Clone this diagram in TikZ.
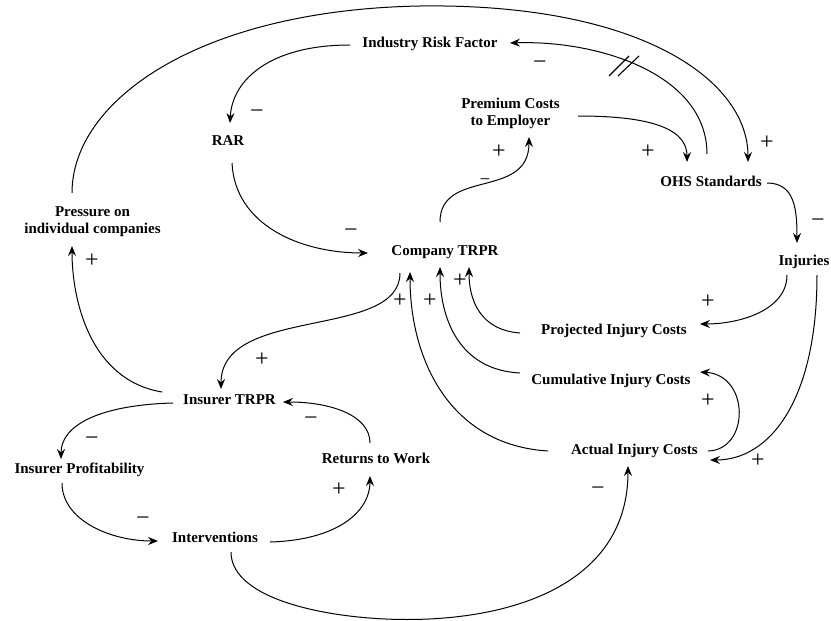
\documentclass[tikz,border=0pt]{standalone}
\usepackage{fontspec}
\setmainfont{Liberation Serif}
\usetikzlibrary{arrows.meta}
\begin{document}
\begin{tikzpicture}[x=1pt,y=-1pt,
  var/.style={font=\bfseries\fontsize{15}{17}\selectfont, inner sep=0pt, text height=0.676em, text depth=0pt},
  var2/.style={font=\bfseries\fontsize{15}{17}\selectfont, inner sep=0pt, align=center},
  sgn/.style={font=\fontsize{24}{24}\selectfont, inner sep=0pt, text height=0.506em, text depth=0pt},
  smallsgn/.style={font=\fontsize{19}{19}\selectfont, inner sep=0pt, text height=0.506em, text depth=0pt},
  link/.style={line width=1pt, -{Stealth[length=10pt,width=8pt,inset=3.5pt]}},
  delaymark/.style={line width=1.1pt}
  ]
\useasboundingbox (0,0) rectangle (831,621);
% variables
\node[var] (irf) at (430,44) {Industry Risk Factor};
\node[var2] (prem) at (510.5,113) {Premium Costs\\to Employer};
\node[var] (ohs) at (711,183) {OHS Standards};
\node[var] (rar) at (228,142) {RAR};
\node[var2] (press) at (92.5,222) {Pressure on\\individual companies};
\node[var] (comp) at (445,252) {Company TRPR};
\node[var] (inj) at (804,262) {Injuries};
\node[var] (proj) at (614,331) {Projected Injury Costs};
\node[var] (cum) at (611,381) {Cumulative Injury Costs};
\node[var] (act) at (634.5,451) {Actual Injury Costs};
\node[var] (ins) at (229.5,401) {Insurer TRPR};
\node[var] (prof) at (79.5,470) {Insurer Profitability};
\node[var] (ret) at (376,460) {Returns to Work};
\node[var] (intv) at (215,539) {Interventions};
\coordinate (top) at (420,6);
\coordinate (bot) at (407,619.5);
% links
\draw[link] ([shift={(-80,1)}]irf.center) .. controls +(-80,0) and +(2,-43) .. ([shift={(2,-19)}]rar.center);
\draw[link] ([shift={(-4,-29)}]ohs.center) .. controls +(0,-79) and +(90,-3) .. ([shift={(80,-1)}]irf.center);
\draw[link] ([shift={(-20.5,-29)}]press.center) .. controls +(0,-93) and +(-220,4) .. (top) .. controls +(220,-3) and +(0,-82) .. ([shift={(37,-21)}]ohs.center);
\draw[link] ([shift={(67.5,3)}]prem.center) .. controls +(62,0) and +(0,-37) .. ([shift={(-24,-21)}]ohs.center);
\draw[link] ([shift={(56,0)}]ohs.center) .. controls +(28,0) and +(0,-33) .. ([shift={(-7,-19)}]inj.center);
\draw[link] ([shift={(-5,-30)}]comp.center) .. controls +(0,-54) and +(0,63) .. ([shift={(18.5,24)}]prem.center);
\draw[link] ([shift={(4,21)}]rar.center) .. controls +(3,62) and +(-68,0) .. ([shift={(-77,1)}]comp.center);
\draw[link] ([shift={(-45,21)}]comp.center) .. controls +(0,67) and +(0,-84) .. ([shift={(-8.5,-12)}]ins.center);
\draw[link] ([shift={(-67.5,-9)}]ins.center) .. controls +(-72,-12) and +(0,54) .. ([shift={(-20.5,24)}]press.center);
\draw[link] ([shift={(-56.5,2)}]ins.center) .. controls +(-73,2) and +(0,-34) .. ([shift={(-18.5,-11)}]prof.center);
\draw[link] ([shift={(-17.5,13)}]prof.center) .. controls +(0,37) and +(-48,0) .. ([shift={(-57,2)}]intv.center);
\draw[link] ([shift={(55,3)}]intv.center) .. controls +(70,-2) and +(0,34) .. ([shift={(-6,16)}]ret.center);
\draw[link] ([shift={(-6,-17)}]ret.center) .. controls +(0,-28) and +(47,0) .. ([shift={(53.5,1)}]ins.center);
\draw[link] ([shift={(16,13)}]intv.center) .. controls +(0,48) and +(-77,0) .. (bot) .. controls +(113,0) and +(0,114) .. ([shift={(-6.5,15)}]act.center);
\draw[link] ([shift={(-17,13)}]inj.center) .. controls +(0,35) and +(40,0) .. ([shift={(86,-7)}]proj.center);
\draw[link] ([shift={(13,13)}]inj.center) .. controls +(0,125) and +(60,0) .. ([shift={(75.5,9)}]act.center);
\draw[link] ([shift={(73.5,0)}]act.center) .. controls +(42,-1) and +(50,3) .. ([shift={(89,-9)}]cum.center);
\draw[link] ([shift={(-94,2)}]proj.center) .. controls +(-40,-3) and +(0,33) .. ([shift={(24,15)}]comp.center);
\draw[link] ([shift={(-91,-8)}]cum.center) .. controls +(-60,-3) and +(0,53) .. ([shift={(-5,15)}]comp.center);
\draw[link] ([shift={(-86.5,0)}]act.center) .. controls +(-98,-6) and +(0,88) .. ([shift={(-35,20)}]comp.center);
% delay mark
\draw[delaymark] (609,76) -- (629,56);
\draw[delaymark] (618,76) -- (639,56);
% polarities
\node[sgn] (s1) at (257,116) {−};
\node[sgn] (s2) at (540,67) {−};
\node[sgn] (s3) at (648,156) {+};
\node[sgn] (s4) at (767,147) {+};
\node[sgn] (s5) at (499,156) {+};
\node[smallsgn] (s6) at (485,183) {−};
\node[sgn] (s7) at (818,225) {−};
\node[sgn] (s8) at (351,235) {−};
\node[sgn] (s9) at (92,265) {+};
\node[sgn] (s10) at (262,364) {+};
\node[sgn] (s11) at (400,305) {+};
\node[sgn] (s12) at (430,305) {+};
\node[sgn] (s13) at (460,285) {+};
\node[sgn] (s14) at (708,306) {+};
\node[sgn] (s15) at (708,405) {+};
\node[sgn] (s16) at (758,465) {+};
\node[sgn] (s17) at (92,443) {−};
\node[sgn] (s18) at (311,423) {−};
\node[sgn] (s19) at (143,523) {−};
\node[sgn] (s20) at (339,494) {+};
\node[sgn] (s21) at (598,493) {−};
\end{tikzpicture}
\end{document}
